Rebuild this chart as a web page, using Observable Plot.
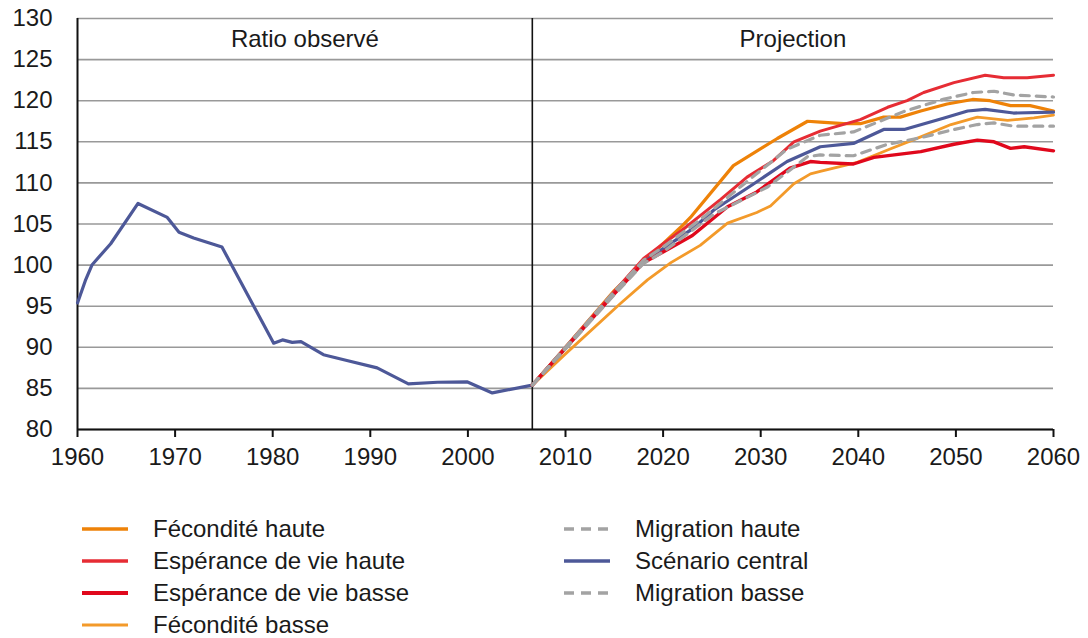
<!DOCTYPE html>
<html><head><meta charset="utf-8">
<script src="https://cdn.jsdelivr.net/npm/d3@7"></script>
<script src="https://cdn.jsdelivr.net/npm/@observablehq/plot@0.6"></script>
<style>
body{margin:0;background:#fff;font-family:"Liberation Sans",Arial,sans-serif;width:1088px;height:638px;overflow:hidden;}
#legend{position:relative;height:158px;width:1088px;}
.item{position:absolute;display:flex;align-items:center;font-size:24px;line-height:26px;color:#1a1a1a;height:28px;}
.item svg{margin-right:24px;}
</style></head><body>
<div id="chart"></div><div id="legend"></div>
<script>
// ---- data ----
const xTicks = [1960,1970,1980,1990,2000,2010,2020,2030,2040,2050,2060];
const yTicks = [80,85,90,95,100,105,110,115,120,125,130];
const divideYear = 2006.6;
const periodNames = ["Ratio observé","Projection"];
const periodFrom = [1960, 2006.6];
const periodTo = [2006.6, 2060];

const obsYears = [1960,1960.8,1961.5,1963.4,1966.2,1969.2,1970.4,1971.9,1974.8,1980.1,1981,1982,1982.9,1985.2,1987.6,1990.7,1993.9,1996.9,1999.9,2002.5,2006.6];
const obsValues = [95.4,98.1,100.05,102.6,107.5,105.8,104.0,103.3,102.2,90.5,90.9,90.6,90.7,89.1,88.4,87.5,85.55,85.75,85.8,84.45,85.4];

const fhYears = [2006.6,2010,2015,2018.9,2021.8,2022.8,2027.2,2031.7,2034.8,2036.1,2038.5,2040.2,2042.6,2044.3,2046.4,2049.1,2051.7,2053.5,2055.6,2057.6,2060];
const fhValues = [85.4,90.0,96.9,101.4,104.6,105.8,112.1,115.4,117.5,117.4,117.2,117.2,118.0,118.0,118.75,119.6,120.15,120.0,119.4,119.4,118.75];

const evhYears = [2006.6,2010,2015,2018,2020,2022,2024,2025.9,2028.6,2031.3,2033.4,2036.1,2040.2,2043,2045,2046.7,2049.8,2053,2054.9,2057.3,2060];
const evhValues = [85.4,90.0,96.8,100.8,102.6,104.3,106.2,108.0,110.7,112.7,115.0,116.3,117.7,119.2,120.0,121.0,122.2,123.1,122.8,122.8,123.1];

const evbYears = [2006.6,2010,2015,2018,2020,2023,2026.6,2029.6,2033,2035.1,2036.1,2039.5,2041.6,2046.4,2049.8,2052.2,2053.9,2055.6,2057,2060];
const evbValues = [85.4,89.9,96.5,100.3,101.6,103.6,107.1,108.9,111.8,112.6,112.5,112.3,113.1,113.8,114.7,115.2,115.0,114.2,114.4,113.9];

const fbYears = [2006.6,2010,2015.6,2018.4,2020.8,2023.8,2026.6,2029.6,2031,2033.4,2035.1,2036.1,2039.9,2043,2046.4,2049.5,2052.2,2055.3,2058,2060];
const fbValues = [85.4,89.2,95.3,98.2,100.3,102.4,105.1,106.4,107.2,109.9,111.1,111.4,112.5,114.0,115.6,117.1,118.0,117.6,117.9,118.25];

const scYears = [2006.6,2010,2015,2018,2020,2023,2025.2,2029.3,2032.7,2036.1,2039.5,2042.6,2044.7,2048.8,2051.2,2053,2055.9,2060];
const scValues = [85.4,89.9,96.6,100.4,102.0,104.4,106.7,109.9,112.6,114.4,114.8,116.5,116.5,117.9,118.75,118.95,118.5,118.6];

const mhYears = [2006.6,2010,2015,2018,2020,2024,2027.9,2032.7,2036.1,2039.5,2044.7,2048.8,2051.8,2053.9,2055.9,2060];
const mhValues = [85.4,90.0,96.8,100.6,102.2,105.7,109.5,114.1,115.8,116.2,118.7,120.2,121.0,121.15,120.7,120.45];

const mbYears = [2006.6,2010,2015,2018,2020,2025.2,2030.7,2034.8,2036.1,2039.5,2043,2046.4,2049.8,2052.2,2053.9,2055.9,2060];
const mbValues = [85.4,89.8,96.4,100.2,101.6,106.2,109.5,113.2,113.4,113.3,114.7,115.5,116.5,117.1,117.3,116.9,116.9];

// ---- styles (draw order) ----
const series = [
  {name:"Fécondité basse", years:fbYears, values:fbValues, color:"#f39a2a", width:2.8, dash:null},
  {name:"Fécondité haute", years:fhYears, values:fhValues, color:"#ee8208", width:3.2, dash:null},
  {name:"Scénario central", years:scYears, values:scValues, color:"#4d5898", width:3.2, dash:null},
  {name:"Espérance de vie haute", years:evhYears, values:evhValues, color:"#e62c34", width:3, dash:null},
  {name:"Espérance de vie basse", years:evbYears, values:evbValues, color:"#e0081c", width:3.4, dash:null},
  {name:"Migration haute", years:mhYears, values:mhValues, color:"#a3a3a3", width:3.2, dash:"9,7"},
  {name:"Migration basse", years:mbYears, values:mbValues, color:"#a3a3a3", width:3.2, dash:"9,7"}
];

const periods = periodNames.map((n,i)=>({label:n, mid:(periodFrom[i]+periodTo[i])/2}));
const yMin = d3.min(yTicks), yMax = d3.max(yTicks);

const marks = [
  Plot.gridY(yTicks, {stroke:"#999", strokeOpacity:1, strokeWidth:1.6}),
  Plot.ruleX([divideYear], {y1:yMin, y2:yMax, stroke:"#111", strokeWidth:1.6}),
  Plot.ruleX([xTicks[0]], {y1:yMin, y2:yMax, stroke:"#111", strokeWidth:2}),
  Plot.ruleY([yMin], {stroke:"#111", strokeWidth:2}),
  Plot.line(d3.zip(obsYears, obsValues), {x:d=>d[0], y:d=>d[1], stroke:"#4d5898", strokeWidth:3.2}),
  ...series.map(s => Plot.line(d3.zip(s.years, s.values), {x:d=>d[0], y:d=>d[1], stroke:s.color, strokeWidth:s.width, strokeDasharray:s.dash})),
  Plot.text(periods, {x:"mid", text:"label", frameAnchor:"top", dy:11, fontSize:24, fill:"#1a1a1a"}),
  Plot.axisX(xTicks, {tickSize:8, tickPadding:10, tickFormat:d=>String(d), stroke:"#111", strokeWidth:2, fill:"#1a1a1a", label:null}),
  Plot.axisY(yTicks, {tickSize:0, tickPadding:25, fill:"#1a1a1a", label:null})
];

const chart = Plot.plot({
  width:1088, height:480,
  marginLeft:77, marginRight:35, marginTop:18, marginBottom:51,
  x:{domain:[1960,2060]},
  y:{domain:[yMin,yMax]},
  style:{fontFamily:"Liberation Sans, Arial, sans-serif", fontSize:"24px", background:"#fff", overflow:"visible"},
  marks
});
document.getElementById("chart").appendChild(chart);

// ---- legend ----
const col1 = ["Fécondité haute","Espérance de vie haute","Espérance de vie basse","Fécondité basse"];
const col2 = ["Migration haute","Scénario central","Migration basse"];
const legend = document.getElementById("legend");
const byName = Object.fromEntries(series.map(s=>[s.name,s]));
function addItem(name, left, idx){
  const s = byName[name];
  const div = document.createElement("div");
  div.className = "item";
  div.style.left = left + "px";
  div.style.top = (35 + idx*32) + "px";
  div.innerHTML = `<svg width="48" height="10"><line x1="1" x2="47" y1="5" y2="5" stroke="${s.color}" stroke-width="${s.width+0.4}" ${s.dash?`stroke-dasharray="10,7"`:""}/></svg><span>${name}</span>`;
  legend.appendChild(div);
}
col1.forEach((n,i)=>addItem(n, 81, i));
col2.forEach((n,i)=>addItem(n, 563, i));
</script>
</body></html>
